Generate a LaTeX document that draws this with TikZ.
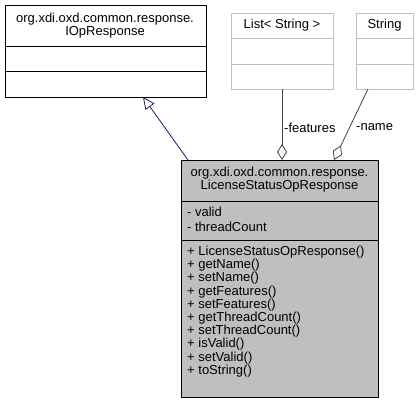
\documentclass[tikz,border=0pt]{standalone}
\usepackage{fontspec}
\setmainfont{Liberation Sans}
\usetikzlibrary{arrows.meta}
\definecolor{grey75}{HTML}{BFBFBF}
\definecolor{grey25}{HTML}{404040}
\definecolor{midblue}{HTML}{191970}
\begin{document}
\begin{tikzpicture}[x=1pt,y=-1pt,
  txt/.style={inner sep=0pt,font=\fontsize{13}{13.2}\selectfont},
  extbox/.style={draw=grey75,fill=white,line width=0.8pt},
  mainbox/.style={draw=black,fill=grey75,line width=0.8pt},
  basebox/.style={draw=black,fill=white,line width=0.8pt},
  agg/.style={draw=grey25,line width=0.8pt,{Diamond[open,length=16pt,width=10pt,fill=white]}-},
  inh/.style={draw=midblue,line width=0.8pt,{Triangle[open,length=12pt,width=11pt,fill=white]}-}]
\useasboundingbox (0,0) rectangle (418,404);
% IOpResponse
\node[basebox,minimum width=201pt,minimum height=92pt,inner sep=0pt,anchor=north west] (iop) at (4.5,5) {};
\draw[line width=0.8pt] (4.5,46) -- (205.5,46) (4.5,71) -- (205.5,71);
\node[txt,align=center] (iopt) at (105,25.5) {org.xdi.oxd.common.response.\\IOpResponse};
% List<String>
\node[extbox,minimum width=102pt,minimum height=76pt,inner sep=0pt,anchor=north west] (list) at (231,13) {};
\draw[grey75,line width=0.8pt] (231,38) -- (333,38) (231,64) -- (333,64);
\node[txt] (listt) at (282,25.5) {List< String >};
% String
\node[extbox,minimum width=57pt,minimum height=76pt,inner sep=0pt,anchor=north west] (str) at (356,13) {};
\draw[grey75,line width=0.8pt] (356,38) -- (413,38) (356,64) -- (413,64);
\node[txt] (strt) at (384.5,25.5) {String};
% Main
\node[mainbox,minimum width=197pt,minimum height=237pt,inner sep=0pt,anchor=north west] (main) at (181,160) {};
\draw[line width=0.8pt] (181,201) -- (378,201) (181,240) -- (378,240);
\node[txt,align=center] (maint) at (279.5,180) {org.xdi.oxd.common.response.\\LicenseStatusOpResponse};
\node[txt,align=left,anchor=west,font=\fontsize{13}{14.5}\selectfont] (attrs) at (187,219.5) {- valid\\- threadCount};
\node[txt,align=left,anchor=west] (meths) at (187,311.5) {+ LicenseStatusOpResponse()\\+ getName()\\+ setName()\\+ getFeatures()\\+ setFeatures()\\+ getThreadCount()\\+ setThreadCount()\\+ isValid()\\+ setValid()\\+ toString()};
% connectors
\coordinate (inhEnd) at (143,97);
\coordinate (inhStart) at (188,160);
\draw[inh] (inhEnd) -- (inhStart);
\coordinate (featTip) at (282,160);
\coordinate (featTop) at (282,89);
\draw[agg] (featTip) -- (featTop);
\coordinate (nameTip) at (334,160);
\coordinate (nameTop) at (368,89);
\draw[agg] (nameTip) -- (nameTop);
\node[txt,anchor=west] (featl) at (284,127.5) {-features};
\node[txt,anchor=west] (namel) at (356,127.5) {-name};
\end{tikzpicture}
\end{document}
